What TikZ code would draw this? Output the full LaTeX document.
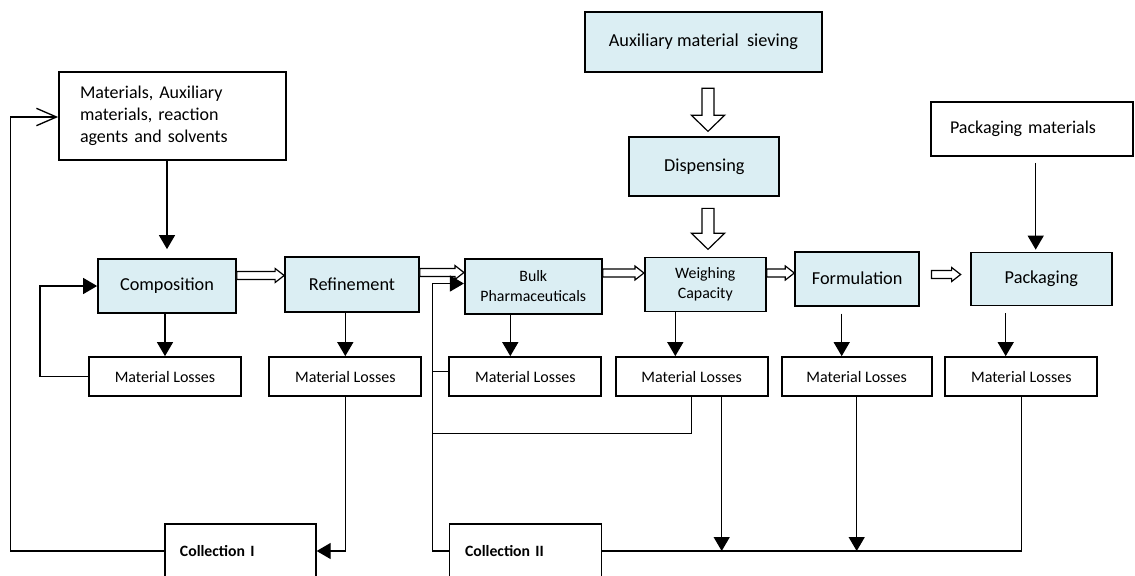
\documentclass[tikz,border=0pt]{standalone}
\usepackage{fontspec}
\setmainfont{Carlito}
\usetikzlibrary{arrows.meta,calc}

\definecolor{stagefill}{RGB}{219,238,243}

% outlined arrow: from, tip, shaft half width, head half width, head length
\newcommand{\hollowarrow}[5]{%
  \coordinate (hb) at ($(#2)!#5!(#1)$);
  \draw[line width=0.9pt, fill=white] ($(#1)!#3!90:(#2)$) -- ($(hb)!#3!90:(#2)$) -- ($(hb)!#4!90:(#2)$) -- (#2)
    -- ($(hb)!#4!-90:(#2)$) -- ($(hb)!#3!-90:(#2)$) -- ($(#1)!#3!-90:(#2)$) -- cycle;
}

\tikzset{
  stage/.style={draw, line width=1.3pt, fill=stagefill, align=center, inner sep=0pt,
    font=\fontsize{13.7}{16}\selectfont},
  plainbox/.style={draw, line width=1.3pt, fill=white, align=left, inner sep=0pt,
    font=\fontsize{13.5}{16.5}\selectfont},
  lossbox/.style={draw, line width=1.3pt, fill=white, inner sep=0pt, minimum width=114pt,
    minimum height=29.25pt, font=\fontsize{12}{14}\selectfont},
  collbox/.style={draw, line width=1.3pt, fill=white, align=left, inner sep=0pt, minimum height=40.5pt,
    font=\fontsize{11.8}{14}\selectfont\bfseries},
  link/.style={line width=1pt},
  flow/.style={line width=1pt, -{Triangle[length=10.5pt,width=12pt]}},
  back/.style={line width=1pt, -{Straight Barb[length=15pt,width=13pt,line width=1pt]}}
}

\begin{document}
\begin{tikzpicture}[x=0.75pt,y=-0.75pt]
\useasboundingbox (0,0) rectangle (1135,575);

% inputs
\node[plainbox, minimum width=170.25pt, minimum height=66pt, text width=138.75pt] (mat) at (172.5,116) {Materials, Auxiliary\\materials, reaction\\agents and solvents};
\node[stage, minimum width=177.75pt, minimum height=45pt] (aux) at (703.5,41.7) {Auxiliary material~~sieving};
\node[stage, minimum width=112.5pt, minimum height=44.25pt] (disp) at (704.3,166.7) {Dispensing};
\node[plainbox, minimum width=151.5pt, minimum height=40.5pt, text width=122.7pt] (pmat) at (1031.8,128.9) {Packaging materials};

% process stages
\node[stage, minimum width=103.5pt, minimum height=40.5pt] (comp) at (167,286) {Composition};
\node[stage, minimum width=100.5pt, minimum height=41.25pt] (ref) at (352,284.5) {Refinement};
\node[stage, minimum width=102.75pt, minimum height=41.25pt, font=\fontsize{11.9}{15}\selectfont] (bulk) at (533.3,286.5) {Bulk\\Pharmaceuticals};
\node[stage, minimum width=90.75pt, minimum height=40.5pt, font=\fontsize{11.9}{15}\selectfont] (weigh) at (705.3,284.5) {Weighing\\Capacity};
\node[stage, minimum width=93pt, minimum height=40.5pt] (form) at (857.2,278.7) {Formulation};
\node[stage, minimum width=105.75pt, minimum height=39.75pt] (pack) at (1041.3,279) {Packaging};

% losses
\node[lossbox] (loss1) at (165,376.5) {Material Losses};
\node[lossbox] (loss2) at (345.3,376.5) {Material Losses};
\node[lossbox] (loss3) at (525.3,376.5) {Material Losses};
\node[lossbox] (loss4) at (691.7,376.5) {Material Losses};
\node[lossbox, minimum width=112.5pt] (loss5) at (856.7,376.5) {Material Losses};
\node[lossbox] (loss6) at (1021.3,376.5) {Material Losses};

% collections
\node[collbox, minimum width=113.25pt, text width=90.5pt] (coll1) at (240.3,551) {Collection I};
\node[collbox, minimum width=114pt, text width=90.75pt] (coll2) at (525.5,551) {Collection II};

% main line
\coordinate (h1a) at ($(comp.east)+(0,-10.5)$);
\coordinate (h1b) at (h1a -| ref.west);
\hollowarrow{h1a}{h1b}{3pt}{5.25pt}{6.75pt}
\coordinate (h2a) at ($(ref.east)+(0,-12)$);
\coordinate (h2b) at (h2a -| bulk.west);
\hollowarrow{h2a}{h2b}{3pt}{5.25pt}{6.75pt}
\coordinate (h3a) at ($(bulk.east)+(0,-13.5)$);
\coordinate (h3b) at (h3a -| weigh.west);
\hollowarrow{h3a}{h3b}{3pt}{5.25pt}{6.75pt}
\coordinate (h4a) at ($(weigh.east)+(0,-11.5)$);
\coordinate (h4b) at (h4a -| form.west);
\hollowarrow{h4a}{h4b}{3pt}{5.25pt}{6.75pt}
\coordinate (h5a) at ($(form.east)+(11.4,-4.2)$);
\coordinate (h5b) at ($(h5a -| pack.west)+(-9.3,0)$);
\hollowarrow{h5a}{h5b}{3pt}{5.25pt}{6.75pt}

% sieving and dispensing
\coordinate (s1a) at ($(aux.south)+(4.5,15.6)$);
\coordinate (s1b) at ($(s1a |- disp.north)+(0,-5)$);
\hollowarrow{s1a}{s1b}{4.5pt}{12.4pt}{12pt}
\coordinate (s2a) at ($(disp.south)+(3.7,11.3)$);
\coordinate (s2b) at ($(s2a |- weigh.north)+(0,-7.3)$);
\hollowarrow{s2a}{s2b}{4.5pt}{12.4pt}{12pt}

\draw[flow] (mat.south -| comp.north) -- ($(comp.north)+(0,-9)$);
\coordinate (pm) at ($(pmat.south)+(3.9,6)$);
\draw[flow] (pm) -- ($(pm |- pack.north)+(0,-2)$);

% to the losses
\draw[flow] (comp.south -| loss1.north) -- (loss1.north);
\draw[flow] (loss1.west) -- ++(-48,0) |- (comp.west);
\draw[flow] (ref.south -| loss2.north) -- (loss2.north);
\coordinate (b3) at ($(bulk.south)+(-23,0)$);
\draw[flow] (b3) -- (b3 |- loss3.north);
\coordinate (w4) at ($(weigh.south)+(-30,0)$);
\draw[flow] (w4) -- (w4 |- loss4.north);
\coordinate (f5) at ($(form.south)+(-15.5,7)$);
\draw[flow] (f5) -- (f5 |- loss5.north);
\coordinate (p6) at ($(pack.south)+(-35.6,7)$);
\draw[flow] (p6) -- (p6 |- loss6.north);

% collection I
\draw[flow] (loss2.south) |- (coll1.east);
\draw[back] (coll1.west) -- ++(-153.3,0) |- ($(mat.west)+(0,1)$);

% collection II
\coordinate (c2) at ($(coll2.west)+(-16,0)$);
\draw[flow] (coll2.west) -- (c2) |- ($(bulk.west)+(0,-3)$);
\draw[link] ($(loss3.west)+(0,-5)$) -- ++(-16,0);
\draw[link] (loss4.south) -- ++(0,36.5) coordinate (j4) -- (j4 -| c2);
\coordinate (w4b) at ($(loss4.south)+(30,0)$);
\draw[flow] (w4b) -- (w4b |- coll2.east);
\draw[flow] (loss5.south) -- (loss5.south |- coll2.east);
\draw[link] (loss6.south) |- (coll2.east);
\end{tikzpicture}
\end{document}
